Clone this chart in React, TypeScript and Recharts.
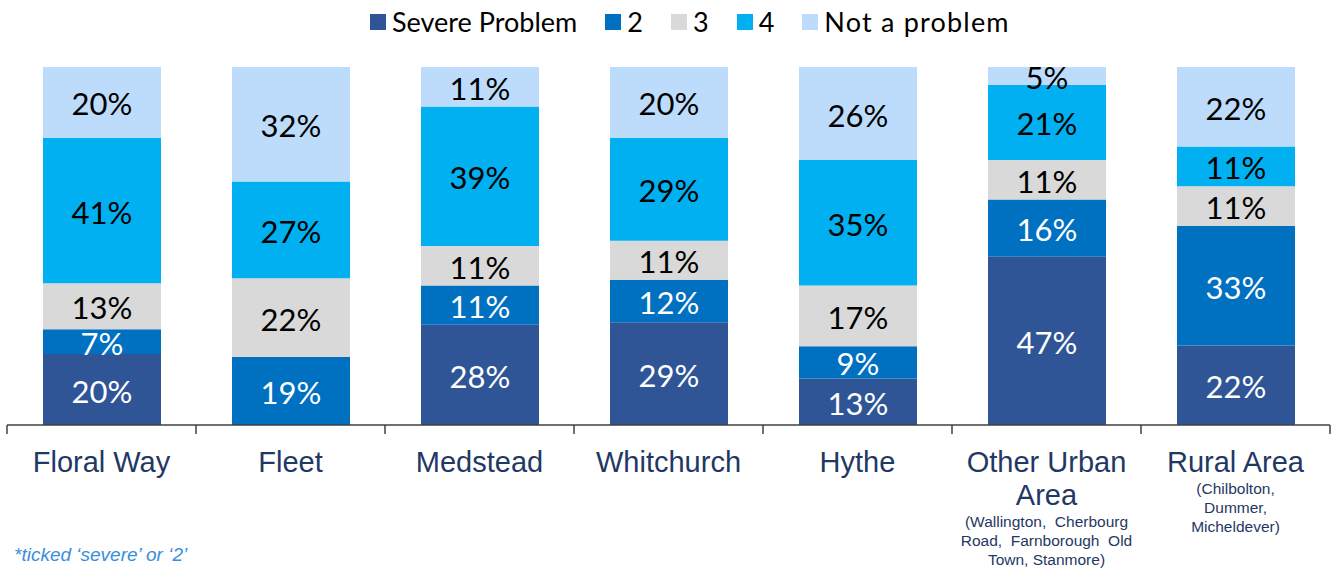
import React from 'react';
import { BarChart, Bar, XAxis, YAxis, LabelList } from 'recharts';

const categories = ['Floral Way', 'Fleet', 'Medstead', 'Whitchurch', 'Hythe', 'Other Urban Area', 'Rural Area'];
const categoryLines = [['Floral Way'], ['Fleet'], ['Medstead'], ['Whitchurch'], ['Hythe'], ['Other Urban', 'Area'], ['Rural Area']];
const categorySubLines = [
    [],
    [],
    [],
    [],
    [],
    ['(Wallington,  Cherbourg', 'Road,  Farnborough  Old', 'Town, Stanmore)'],
    ['(Chilbolton,', 'Dummer,', 'Micheldever)'],
];

const severe = [20, 0, 28, 29, 13, 47, 22];
const two = [7, 19, 11, 12, 9, 16, 33];
const three = [13, 22, 11, 11, 17, 11, 11];
const four = [41, 27, 39, 29, 35, 21, 11];
const notProblem = [20, 32, 11, 20, 26, 5, 22];

const series = [
    { key: 'severe', name: 'Severe Problem', color: '#2F5597', text: '#FFFFFF' },
    { key: 'two', name: '2', color: '#0070C0', text: '#FFFFFF' },
    { key: 'three', name: '3', color: '#D9D9D9', text: '#000000' },
    { key: 'four', name: '4', color: '#00B0F0', text: '#000000' },
    { key: 'notProblem', name: 'Not a problem', color: '#BDDCFB', text: '#000000' },
];

const data = categories.map((name, i) => ({
    name,
    severe: severe[i],
    two: two[i],
    three: three[i],
    four: four[i],
    notProblem: notProblem[i],
}));

const W = 1338;
const H = 577;
const margin = { top: 67, right: 8, left: 7, bottom: 0 };
const band = (W - margin.left - margin.right) / categories.length;

const CategoryTick = (props: any) => {
    const { x, y, index } = props;
    const main = categoryLines[index] || [];
    const sub = categorySubLines[index] || [];
    const lastMain = 47 + (main.length - 1) * 33;
    return (
        <g>
            <line x1={x - band / 2} y1={y} x2={x - band / 2} y2={y + 9} stroke="#404040" strokeWidth={1.5} />
            {index === categories.length - 1 && (
                <line x1={x + band / 2} y1={y} x2={x + band / 2} y2={y + 9} stroke="#404040" strokeWidth={1.5} />
            )}
            {main.map((t, i) => (
                <text key={t} x={x} y={y + 47 + i * 33} textAnchor="middle" fontFamily="Liberation Sans, Arial, sans-serif" fontSize={29} fill="#1F3864">
                    {t}
                </text>
            ))}
            {sub.map((t, i) => (
                <text key={t} x={x} y={y + lastMain + 22 + i * 19} textAnchor="middle" fontFamily="Liberation Sans, Arial, sans-serif" fontSize={15.5} fill="#1F3864" style={{ whiteSpace: 'pre' }}>
                    {t}
                </text>
            ))}
        </g>
    );
};

const makeLabel = (textColor: string) => (props: any) => {
    const { x, y, width, height, value } = props;
    if (!value) return null;
    return (
        <text
            x={x + width / 2}
            y={y + height / 2 + 1}
            textAnchor="middle"
            dominantBaseline="central"
            fontFamily="Lato, sans-serif"
            fontSize={31}
            fill={textColor}
        >
            {value}%
        </text>
    );
};

const App: React.FC = () => {
    return (
        <div style={{ position: 'absolute', left: 0, top: 0, width: W, height: H, background: '#fff' }}>
            <div
                style={{
                    position: 'absolute',
                    left: 370,
                    top: 7,
                    display: 'flex',
                    alignItems: 'center',
                    fontFamily: 'Lato, sans-serif',
                    fontSize: 27,
                    color: '#000',
                    lineHeight: '30px',
                }}
            >
                {series.map(s => (
                    <div key={s.key} style={{ display: 'flex', alignItems: 'center', marginRight: 28 }}>
                        <span style={{ width: 16, height: 16, background: s.color, marginRight: 6, display: 'inline-block' }} />
                        <span style={{ letterSpacing: s.key === 'notProblem' ? 1.2 : 0 }}>{s.name}</span>
                    </div>
                ))}
            </div>
            <BarChart width={W} height={H} data={data} margin={margin} stackOffset="expand" barSize={118}>
                <XAxis
                    dataKey="name"
                    height={152}
                    interval={0}
                    axisLine={{ stroke: '#404040', strokeWidth: 1.5 }}
                    tickLine={false}
                    tickSize={0}
                    tickMargin={0}
                    tick={<CategoryTick />}
                />
                <YAxis hide domain={[0, 1]} />
                {series.map(s => (
                    <Bar key={s.key} dataKey={s.key} name={s.name} stackId="a" fill={s.color} isAnimationActive={false}>
                        <LabelList dataKey={s.key} content={makeLabel(s.text)} />
                    </Bar>
                ))}
            </BarChart>
            <div
                style={{
                    position: 'absolute',
                    left: 14,
                    top: 544,
                    fontFamily: 'Liberation Sans, Arial, sans-serif',
                    fontStyle: 'italic',
                    fontSize: 19,
                    color: '#3B8EDB',
                }}
            >
                *ticked ‘severe’ or ‘2’
            </div>
        </div>
    );
};

export default App;
